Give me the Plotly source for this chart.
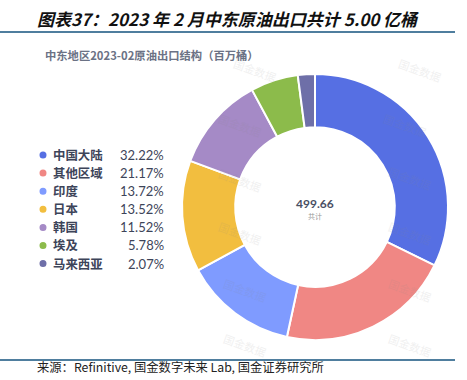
import plotly.graph_objects as go

categories = ["中国大陆", "其他区域", "印度", "日本", "韩国", "埃及", "马来西亚"]
shares = [32.22, 21.17, 13.72, 13.52, 11.52, 5.78, 2.07]
colors = ["#566FE3", "#F08784", "#7F9BFF", "#F2BE3F", "#A58AC6", "#8CBB4B", "#6E6FA8"]
total_label = "499.66"

W, H = 467, 380
cx, cy, R = 315, 207, 133

fig = go.Figure()
fig.add_trace(go.Pie(
    labels=categories, values=shares, sort=False, direction="clockwise", rotation=0,
    hole=0.6, textinfo="none", hoverinfo="label+percent",
    marker=dict(colors=colors, line=dict(color="white", width=2)),
    domain=dict(x=[(cx - R) / W, (cx + R) / W], y=[(H - cy - R) / H, (H - cy + R) / H]),
    showlegend=False,
))

ann = []
shapes = []
font_cjk = "Noto Sans CJK SC, Lato, sans-serif"

# Title
ann.append(dict(x=35 / W, y=1 - 18 / H, xref="paper", yref="paper", xanchor="left", yanchor="middle",
                text="<b><i>图表37：2023 年 2 月中东原油出口共计 5.00 亿桶</i></b>", showarrow=False,
                font=dict(family=font_cjk, size=17, color="#111")))
shapes.append(dict(type="line", xref="paper", yref="paper", x0=0, x1=455 / W, y0=1 - 32 / H, y1=1 - 32 / H,
                   line=dict(color="#4F7E9E", width=2)))
# Subtitle
ann.append(dict(x=43 / W, y=1 - 55 / H, xref="paper", yref="paper", xanchor="left", yanchor="middle",
                text="<b>中东地区2023-02原油出口结构（百万桶）</b>", showarrow=False,
                font=dict(family=font_cjk, size=11.3, color="#6B7285")))

# Legend
y0, dy = 155, 18.1
for i, (c, s, col) in enumerate(zip(categories, shares, colors)):
    yy = y0 + i * dy
    shapes.append(dict(type="circle", xref="paper", yref="paper",
                       x0=(43 - 3.5) / W, x1=(43 + 3.5) / W, y0=1 - (yy + 3.5) / H, y1=1 - (yy - 3.5) / H,
                       fillcolor=col, line=dict(width=0)))
    ann.append(dict(x=51 / W, y=1 - yy / H, xref="paper", yref="paper", xanchor="left", yanchor="middle",
                    text=f"<b>{c}</b>", showarrow=False, font=dict(family=font_cjk, size=12.4, color="#3D4459")))
    ann.append(dict(x=166 / W, y=1 - yy / H, xref="paper", yref="paper", xanchor="right", yanchor="middle",
                    text=f"{s:.2f}%", showarrow=False, font=dict(family="Lato, sans-serif", size=13, color="#3D4459")))

# Center label
ann.append(dict(x=cx / W, y=1 - 203 / H, xref="paper", yref="paper", xanchor="center", yanchor="middle",
                text="<b>" + total_label + "</b>", showarrow=False, font=dict(family="Lato, sans-serif", size=12, color="#4A5064")))
ann.append(dict(x=cx / W, y=1 - 216 / H, xref="paper", yref="paper", xanchor="center", yanchor="middle",
                text="共计", showarrow=False, font=dict(family=font_cjk, size=7, color="#999")))

# Watermarks
for (wx, wy) in [(255, 70), (420, 70), (240, 125), (405, 125), (240, 180), (410, 178), (240, 233), (410, 233),
                 (245, 290), (410, 290), (245, 345), (410, 345)]:
    ann.append(dict(x=wx / W, y=1 - wy / H, xref="paper", yref="paper", xanchor="center", yanchor="middle",
                    text="国金数据", showarrow=False, textangle=20, opacity=0.12,
                    font=dict(family=font_cjk, size=11, color="#888")))

# Footer
shapes.append(dict(type="line", xref="paper", yref="paper", x0=0, x1=455 / W, y0=1 - 360 / H, y1=1 - 360 / H,
                   line=dict(color="#4F7E9E", width=2)))
ann.append(dict(x=35 / W, y=1 - 367 / H, xref="paper", yref="paper", xanchor="left", yanchor="middle",
                text="来源：Refinitive, 国金数字未来 Lab, 国金证券研究所", showarrow=False,
                font=dict(family=font_cjk, size=12.3, color="#222")))

fig.update_layout(width=W, height=H, margin=dict(l=0, r=0, t=0, b=0),
                  paper_bgcolor="white", plot_bgcolor="white",
                  annotations=ann, shapes=shapes)
fig.write_html("out.html", config={"displayModeBar": False},
               post_script="document.body.style.margin='0';document.body.style.overflow='hidden';")
